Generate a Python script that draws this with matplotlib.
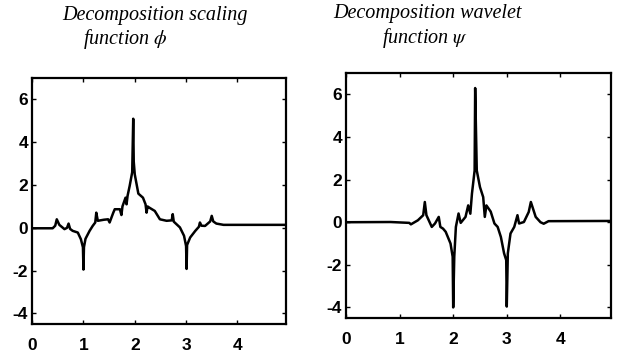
import matplotlib
matplotlib.use("Agg")
import matplotlib.pyplot as plt

# funcion de escala phi
phi_x = [0.0, 0.40, 0.45, 0.48, 0.53, 0.63, 0.68, 0.71, 0.74, 0.79, 0.89, 0.95,
         0.99, 1.0, 1.01, 1.04, 1.12, 1.18, 1.23, 1.25, 1.28, 1.40, 1.48, 1.51,
         1.58, 1.61, 1.71, 1.74, 1.76, 1.82, 1.84, 1.86, 1.90, 1.95, 1.97, 1.98,
         2.0, 2.07, 2.16, 2.21, 2.23, 2.25, 2.28, 2.39, 2.49, 2.62, 2.72, 2.74,
         2.76, 2.88, 2.96, 3.0, 3.01, 3.02, 3.08, 3.18, 3.25, 3.27, 3.30, 3.37,
         3.47, 3.50, 3.53, 3.59, 3.73, 4.0, 4.95]
phi_y = [-0.02, -0.02, 0.10, 0.40, 0.14, -0.06, 0.0, 0.20, -0.05, -0.14, -0.22, -0.53,
         -0.91, -1.95, -0.90, -0.51, -0.14, 0.09, 0.25, 0.71, 0.33, 0.38, 0.40, 0.25,
         0.70, 0.87, 0.87, 0.60, 1.00, 1.41, 1.10, 1.50, 1.95, 2.60, 5.10, 3.10,
         2.50, 1.60, 1.41, 1.10, 0.71, 1.00, 0.95, 0.79, 0.40, 0.33, 0.35, 0.64,
         0.29, 0.02, -0.37, -0.85, -1.92, -0.80, -0.45, -0.14, 0.05, 0.25, 0.10, 0.09,
         0.30, 0.56, 0.30, 0.20, 0.14, 0.14, 0.14]

# funcion wavelet psi
psi_x = [0.0, 0.83, 1.18, 1.21, 1.34, 1.44, 1.47, 1.50, 1.60, 1.66, 1.73, 1.76,
         1.81, 1.86, 1.95, 1.99, 2.0, 2.02, 2.05, 2.10, 2.14, 2.23, 2.28, 2.32,
         2.35, 2.40, 2.41, 2.44, 2.50, 2.56, 2.59, 2.62, 2.70, 2.77, 2.83, 2.89,
         2.95, 2.99, 3.0, 3.02, 3.07, 3.14, 3.20, 3.23, 3.32, 3.41, 3.45, 3.54,
         3.63, 3.69, 3.78, 4.95]
psi_y = [0.0, 0.01, -0.03, -0.10, 0.09, 0.33, 0.95, 0.33, -0.22, -0.06, 0.25, -0.22,
         -0.30, -0.45, -1.00, -1.62, -4.00, -1.62, -0.22, 0.41, -0.03, 0.25, 0.79, 0.40,
         1.34, 2.43, 6.30, 2.43, 1.65, 1.18, 0.25, 0.79, 0.50, -0.06, -0.22, -0.69,
         -1.46, -1.78, -3.96, -1.46, -0.53, -0.22, 0.33, -0.06, 0.01, 0.48, 0.95, 0.25,
         0.0, -0.07, 0.05, 0.06]

ticks_x = [0, 1, 2, 3, 4]
ticks_y = [-4, -2, 0, 2, 4, 6]

plt.rcParams['mathtext.fontset'] = 'stix'
plt.rcParams['axes.unicode_minus'] = False
tick_font = ['Liberation Sans Narrow', 'Liberation Sans', 'DejaVu Sans']

fig = plt.figure(figsize=(6.18, 3.55), dpi=100)
ax1 = fig.add_axes([0.052, 0.087, 0.411, 0.693])
ax2 = fig.add_axes([0.560, 0.104, 0.429, 0.690])

for ax, xs, ys in [(ax1, phi_x, phi_y), (ax2, psi_x, psi_y)]:
    ax.plot(xs, ys, color='black', linewidth=1.8)
    ax.set_xlim(0, 4.95)
    ax.set_ylim(-4.5, 7.0)
    ax.set_xticks(ticks_x)
    ax.set_yticks(ticks_y)
    ax.tick_params(direction='in', length=3, width=1, top=True, right=True,
                   labelsize=12.5)
    ax.tick_params(axis='x', pad=10)
    ax.tick_params(axis='y', pad=3)
    for lab in ax.get_xticklabels() + ax.get_yticklabels():
        lab.set_family(tick_font)
        lab.set_weight('bold')
    for s in ax.spines.values():
        s.set_linewidth(1.6)

# titulos
tfont = dict(family='Liberation Serif', style='italic', fontsize=14.5,
             va='baseline', ha='left')
fig.text(62 / 618, 1 - 20 / 355, 'Decomposition scaling', **tfont)
fig.text(83 / 618, 1 - 44 / 355, r'function $\phi$', **tfont)
fig.text(333 / 618, 1 - 18 / 355, 'Decomposition wavelet', **tfont)
fig.text(382 / 618, 1 - 43 / 355, r'function $\psi$', **tfont)

fig.savefig('out.png', dpi=100)
